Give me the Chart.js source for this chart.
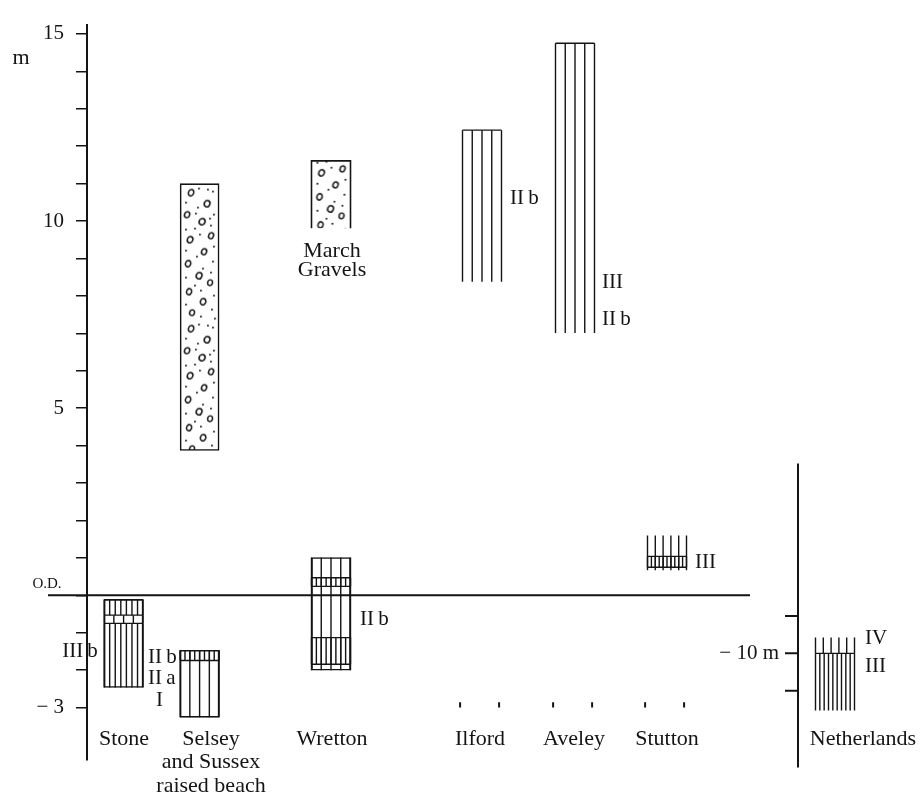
<!DOCTYPE html>
<html>
<head>
<meta charset="utf-8">
<script src="https://cdn.jsdelivr.net/npm/chart.js@4.4.1/dist/chart.umd.min.js"></script>
<style>
  html, body { margin: 0; padding: 0; background: #fff; }
  canvas { display: block; }
</style>
</head>
<body>
<canvas id="chart" width="920" height="797"></canvas>
<script>
// sites, left to right
const siteNames = ['Stone', ['Selsey', 'and Sussex', 'raised beach'], 'Wretton', 'Ilford', 'Aveley', 'Stutton', 'Netherlands'];

// heights in metres O.D. as [bottom, top]
const stoneRange = [-2.46, -0.11];
const stoneDense = [-0.53, -0.11];
const stoneBrick = [-0.75, -0.53];
const selseyGravel = [3.87, 11.0];
const selseyBeach = [-3.26, -1.47];
const selseyDense = [-1.74, -1.47];
const wrettonRange = [-2.0, 1.01];
const wrettonDense = [[0.24, 0.47], [-1.84, -1.13]];
const marchGravels = [9.81, 11.61];
const ilfordRange = [8.38, 12.43];
const aveleyRange = [7.01, 14.75];
const stuttonRange = [0.67, 1.6];
const stuttonBand = [0.75, 1.04];
const baseMark = [-3.0, -2.86];
// Netherlands is read on its own scale (-10 m mark)
const nlRange = [-11.53, -9.58];
const nlBoundary = -10;
const nlTicks = [-9, -10, -11];
const nlAxis = [-13.05, -4.93];

// tick labels of the main axis
const yLabelValues = [15, 10, 5, -3];
const yLabelText = ['15', '10', '5', '\u2212 3'];

// zone labels and the levels they sit at
const zoneText = ['III\u2009b', 'II\u2009b', 'II\u2009a', 'I', 'II\u2009b', 'II\u2009b', 'III', 'II\u2009b', 'III', 'IV', 'III'];
const zoneLevel = [-1.49, -1.65, -2.21, -2.82, -0.65, 10.6, 8.36, 7.36, 0.88, -9.6, -10.34];

// ---- layout (x units, 20 px each) ----
const siteX = [1.83, 5.63, 12.2, 19.75, 24.4, 29.0, 37.4];
const nameX = [1.85, 6.2, 12.25, 19.65, 24.35, 29.0, 38.8];
const zoneX = [-0.35, 3.05, 3.05, 3.45, 13.65, 21.15, 25.75, 25.75, 30.4, 38.9, 38.9];
const zoneAlign = ['center', 'left', 'left', 'left', 'left', 'left', 'left', 'left', 'left', 'left', 'left'];
const zoneAxis = ['y', 'y', 'y', 'y', 'y', 'y', 'y', 'y', 'y', 'yN', 'yN'];
const half = 0.975;
const nlAxisX = 35.55;
const ink = '#141414';
const serif = '"Liberation Serif", "Times New Roman", serif';

// pebble texture (hand placed, one tall tile)
function gravel() {
  const c = document.createElement('canvas');
  c.width = 39; c.height = 136;
  const g = c.getContext('2d');
  g.fillStyle = '#fff';
  g.fillRect(0, 0, 39, 136);
  g.strokeStyle = ink;
  g.lineWidth = 1.5;
  [[11, 9, 2.6, 3.3], [27, 20, 2.8, 3.2], [7, 31, 2.5, 3.1], [22, 38, 2.9, 3.3], [31, 52, 2.4, 3.1],
   [10, 56, 2.7, 3.2], [24, 68, 2.5, 3.0], [8, 80, 2.6, 3.2], [19, 92, 2.8, 3.3], [30, 99, 2.4, 2.9],
   [9, 108, 2.5, 3.1], [23, 118, 2.7, 3.2], [12, 129, 2.4, 2.9]]
    .forEach(([px, py, rx, ry]) => {
      g.beginPath();
      g.ellipse(px, py, rx, ry, 0.4, 0, Math.PI * 2);
      g.stroke();
    });
  g.fillStyle = ink;
  [[18, 4], [32, 7], [5, 18], [17, 23], [33, 30], [14, 44], [29, 34], [5, 45], [19, 50], [33, 62],
   [5, 66], [30, 41], [15, 29], [27, 5], [16, 72], [32, 77], [22, 84], [5, 93], [30, 88], [14, 101],
   [33, 111], [20, 106], [5, 120], [31, 125], [20, 132], [34, 134]]
    .forEach(([px, py]) => g.fillRect(px, py, 1.7, 1.7));
  return g.createPattern(c, 'repeat');
}
const pebbles = gravel();

const boxes = [stoneRange, selseyGravel, selseyBeach, wrettonRange];
const boxSite = [0, 1, 1, 2];

function edges(x, cx) {
  return [x.getPixelForValue(cx - half), x.getPixelForValue(cx + half)];
}
function verticals(ctx, x, ys, cx, range, n) {
  const [l, r] = edges(x, cx);
  const top = ys.getPixelForValue(range[1]), bot = ys.getPixelForValue(range[0]);
  ctx.beginPath();
  for (let i = 0; i <= n; i++) {
    const px = l + (r - l) * i / n;
    ctx.moveTo(px, top);
    ctx.lineTo(px, bot);
  }
  ctx.stroke();
}
function across(ctx, x, ys, cx, v) {
  const [l, r] = edges(x, cx);
  const py = ys.getPixelForValue(v);
  ctx.beginPath();
  ctx.moveTo(l, py);
  ctx.lineTo(r, py);
  ctx.stroke();
}

const sections = {
  id: 'sections',
  beforeDatasetsDraw(chart) {
    // line the pebbles up with the Selsey column
    const { x, y } = chart.scales;
    pebbles.setTransform(new DOMMatrix().translate(edges(x, siteX[1])[0], y.getPixelForValue(selseyGravel[1])));
  },
  afterDatasetsDraw(chart) {
    const { ctx, scales } = chart;
    const { x, y, yN } = scales;
    ctx.save();
    ctx.strokeStyle = ink;

    // O.D. line
    ctx.lineWidth = 2;
    ctx.beginPath();
    ctx.moveTo(x.getPixelForValue(-1.95), y.getPixelForValue(0));
    ctx.lineTo(x.getPixelForValue(33.15), y.getPixelForValue(0));
    ctx.stroke();
    ctx.lineWidth = 1.4;

    // Stone
    verticals(ctx, x, y, siteX[0], [stoneRange[0], stoneBrick[0]], 7);
    verticals(ctx, x, y, siteX[0], stoneDense, 7);
    verticals(ctx, x, y, siteX[0], stoneBrick, 4);
    across(ctx, x, y, siteX[0], stoneBrick[0]);
    across(ctx, x, y, siteX[0], stoneBrick[1]);

    // Selsey beach
    verticals(ctx, x, y, siteX[1], selseyBeach, 4);
    verticals(ctx, x, y, siteX[1], selseyDense, 8);
    across(ctx, x, y, siteX[1], selseyDense[0]);

    // Wretton
    verticals(ctx, x, y, siteX[2], wrettonRange, 4);
    wrettonDense.forEach(b => {
      verticals(ctx, x, y, siteX[2], b, 8);
      across(ctx, x, y, siteX[2], b[0]);
      across(ctx, x, y, siteX[2], b[1]);
    });

    // March Gravels (open at the base)
    {
      const [l, r] = edges(x, siteX[2]);
      const t = y.getPixelForValue(marchGravels[1]), b = y.getPixelForValue(marchGravels[0]);
      pebbles.setTransform(new DOMMatrix().translate(l, t - 44));
      ctx.fillStyle = pebbles;
      ctx.fillRect(l, t, r - l, b - t);
      ctx.lineWidth = 1.6;
      ctx.beginPath();
      ctx.moveTo(l, b); ctx.lineTo(l, t); ctx.lineTo(r, t); ctx.lineTo(r, b);
      ctx.stroke();
      ctx.lineWidth = 1.4;
    }

    // Ilford, Aveley
    [[3, ilfordRange], [4, aveleyRange]].forEach(([s, rg]) => {
      verticals(ctx, x, y, siteX[s], rg, 4);
      across(ctx, x, y, siteX[s], rg[1]);
    });

    // Stutton
    verticals(ctx, x, y, siteX[5], stuttonRange, 5);
    verticals(ctx, x, y, siteX[5], stuttonBand, 10);
    across(ctx, x, y, siteX[5], stuttonBand[0]);
    across(ctx, x, y, siteX[5], stuttonBand[1]);

    // small base marks
    ctx.lineWidth = 2;
    [3, 4, 5].forEach(s => {
      const [l, r] = edges(x, siteX[s] - 0.12);
      ctx.beginPath();
      [l, r].forEach(px => {
        ctx.moveTo(px, y.getPixelForValue(baseMark[1]));
        ctx.lineTo(px, y.getPixelForValue(baseMark[0]));
      });
      ctx.stroke();
    });
    ctx.lineWidth = 1.4;

    // Netherlands axis and column
    const ax = x.getPixelForValue(nlAxisX);
    ctx.lineWidth = 2;
    ctx.beginPath();
    ctx.moveTo(ax, yN.getPixelForValue(nlAxis[1]));
    ctx.lineTo(ax, yN.getPixelForValue(nlAxis[0]));
    nlTicks.forEach(v => {
      ctx.moveTo(ax - 13, yN.getPixelForValue(v));
      ctx.lineTo(ax, yN.getPixelForValue(v));
    });
    ctx.stroke();
    ctx.lineWidth = 1.4;
    verticals(ctx, x, yN, siteX[6], [nlBoundary, nlRange[1]], 5);
    verticals(ctx, x, yN, siteX[6], [nlRange[0], nlBoundary], 9);
    across(ctx, x, yN, siteX[6], nlBoundary);

    // texts
    ctx.fillStyle = ink;
    ctx.textBaseline = 'middle';
    ctx.font = '21px ' + serif;
    zoneText.forEach((t, i) => {
      ctx.textAlign = zoneAlign[i];
      ctx.fillText(t, x.getPixelForValue(zoneX[i]), scales[zoneAxis[i]].getPixelForValue(zoneLevel[i]));
    });
    ctx.textAlign = 'right';
    ctx.fillText('\u2212 10 m', x.getPixelForValue(34.6), yN.getPixelForValue(-10));

    ctx.font = '22px ' + serif;
    ctx.textAlign = 'center';
    siteNames.forEach((n, i) => {
      const lines = Array.isArray(n) ? n : [n];
      lines.forEach((line, k) => {
        ctx.fillText(line, x.getPixelForValue(nameX[i]), y.getPixelForValue(-3.84) + k * 23.5);
      });
    });
    ctx.fillText('March', x.getPixelForValue(12.25), y.getPixelForValue(9.2));
    ctx.fillText('Gravels', x.getPixelForValue(12.25), y.getPixelForValue(8.7));
    ctx.fillText('m', x.getPixelForValue(-3.3), y.getPixelForValue(14.35));
    ctx.font = '15px ' + serif;
    ctx.fillText('O.D.', x.getPixelForValue(-2.0), y.getPixelForValue(0.3));
    ctx.restore();
  }
};

new Chart(document.getElementById('chart'), {
  type: 'bar',
  data: {
    datasets: [{
      data: boxes.map((r, i) => ({ x: siteX[boxSite[i]], y: r })),
      backgroundColor: ['#fff', pebbles, '#fff', '#fff'],
      borderColor: ink,
      borderWidth: 1.6,
      borderSkipped: false,
      barThickness: 39
    }]
  },
  options: {
    responsive: false,
    animation: false,
    layout: { padding: { top: 16, bottom: 37, left: 0, right: 13 } },
    plugins: { legend: { display: false }, tooltip: { enabled: false } },
    scales: {
      x: { type: 'linear', min: 0, max: 41, offset: false, display: false },
      y: {
        type: 'linear', min: -4.4, max: 15.25,
        afterFit: s => { s.width = 87; },
        afterBuildTicks: s => { s.ticks = s.ticks.filter(t => t.value >= -3 && t.value <= 15); },
        ticks: {
          stepSize: 1, autoSkip: false, includeBounds: false, padding: 12, color: ink,
          font: { family: serif, size: 21 },
          callback: v => { const i = yLabelValues.indexOf(v); return i < 0 ? '' : yLabelText[i]; }
        },
        grid: { drawOnChartArea: false, drawTicks: true, tickLength: 11, color: ink, lineWidth: 1.5 },
        border: { display: true, color: ink, width: 2 }
      },
      yN: { type: 'linear', min: -12.85, max: 6.8, display: false }
    }
  },
  plugins: [sections]
});
</script>
</body>
</html>
